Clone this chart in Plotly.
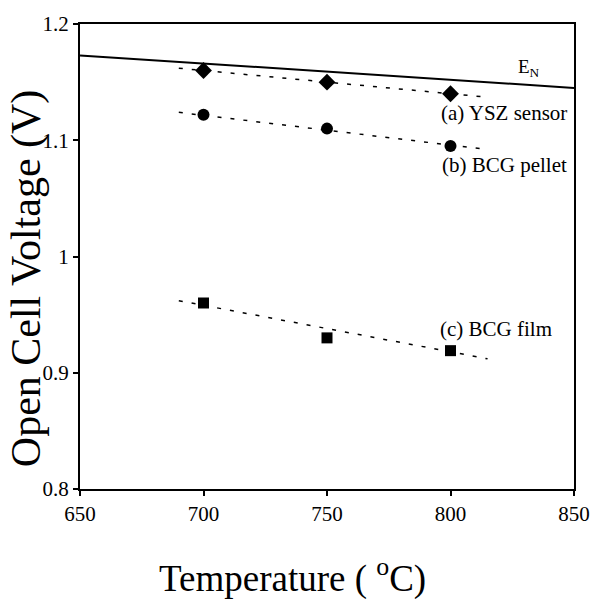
import plotly.graph_objects as go

# Data
temperature = [700, 750, 800]
ysz_sensor = [1.160, 1.150, 1.140]
bcg_pellet = [1.122, 1.110, 1.095]
bcg_film = [0.960, 0.930, 0.919]

fit_temperature = [690, 815]
ysz_fit = [1.162, 1.137]
pellet_fit = [1.124, 1.092]
film_fit = [0.962, 0.912]

en_temperature = [650, 850]
en_voltage = [1.173, 1.145]

x_ticks = [650, 700, 750, 800, 850]
y_ticks = [0.8, 0.9, 1.0, 1.1, 1.2]
y_tick_labels = ["0.8", "0.9", "1", "1.1", "1.2"]

FONT = "Liberation Serif, Times New Roman, serif"

fig = go.Figure()

# Nernst potential line
fig.add_trace(go.Scatter(x=en_temperature, y=en_voltage, mode="lines",
                         line=dict(color="black", width=2), showlegend=False,
                         cliponaxis=False))

# Fit lines (dashed)
for fy in [ysz_fit, pellet_fit, film_fit]:
    fig.add_trace(go.Scatter(x=fit_temperature, y=fy, mode="lines",
                             line=dict(color="black", width=1.5, dash="4px,9px"),
                             showlegend=False))

# Data markers
fig.add_trace(go.Scatter(x=temperature, y=ysz_sensor, mode="markers",
                         marker=dict(symbol="diamond", size=13, color="black"),
                         showlegend=False))
fig.add_trace(go.Scatter(x=temperature, y=bcg_pellet, mode="markers",
                         marker=dict(symbol="circle", size=12, color="black"),
                         showlegend=False))
fig.add_trace(go.Scatter(x=temperature, y=bcg_film, mode="markers",
                         marker=dict(symbol="square", size=11, color="black"),
                         showlegend=False))

L, R, T, B = 80, 16, 22, 110
W, H = 602, 599
pw = W - L - R
ph = H - T - B

def px_to_paper_x(px):
    return (px - L) / pw

def px_to_paper_y(py):
    return (H - B - py) / ph

annotations = [
    dict(x=px_to_paper_x(540), y=px_to_paper_y(66), xref="paper", yref="paper",
         text="E<sub>N</sub>", showarrow=False, font=dict(family=FONT, size=19, color="black"),
         xanchor="center", yanchor="middle"),
    dict(x=px_to_paper_x(581), y=px_to_paper_y(111), xref="paper", yref="paper",
         text="(a) YSZ sensor", showarrow=False, font=dict(family=FONT, size=21, color="black"),
         xanchor="right", yanchor="middle"),
    dict(x=px_to_paper_x(581), y=px_to_paper_y(164), xref="paper", yref="paper",
         text="(b) BCG pellet", showarrow=False, font=dict(family=FONT, size=21, color="black"),
         xanchor="right", yanchor="middle"),
    dict(x=px_to_paper_x(566), y=px_to_paper_y(328), xref="paper", yref="paper",
         text="(c) BCG film", showarrow=False, font=dict(family=FONT, size=21, color="black"),
         xanchor="right", yanchor="middle"),
    dict(x=px_to_paper_x(298), y=px_to_paper_y(576), xref="paper", yref="paper",
         text="Temperature ( <sup>o</sup>C)", showarrow=False,
         font=dict(family=FONT, size=37, color="black"),
         xanchor="center", yanchor="middle"),
    dict(x=px_to_paper_x(26), y=px_to_paper_y(277), xref="paper", yref="paper",
         text="Open Cell Voltage (V)", showarrow=False, textangle=-90,
         font=dict(family=FONT, size=42, color="black"),
         xanchor="center", yanchor="middle"),
]

fig.update_layout(
    width=W, height=H,
    margin=dict(l=L, r=R, t=T, b=B),
    paper_bgcolor="white", plot_bgcolor="white",
    font=dict(family=FONT, color="black"),
    annotations=annotations,
    xaxis=dict(range=[650, 850], tickvals=x_ticks, ticks="outside", ticklen=5,
               tickwidth=1.5, tickcolor="black", showline=True, linecolor="black",
               linewidth=2, mirror=True, showgrid=False, zeroline=False,
               tickfont=dict(family=FONT, size=21, color="black")),
    yaxis=dict(range=[0.8, 1.2], tickvals=y_ticks, ticktext=y_tick_labels,
               ticks="outside", ticklen=5, tickwidth=1.5, tickcolor="black",
               showline=True, linecolor="black", linewidth=2, mirror=True,
               showgrid=False, zeroline=False,
               tickfont=dict(family=FONT, size=21, color="black")),
)

fig.write_html("out.html")
